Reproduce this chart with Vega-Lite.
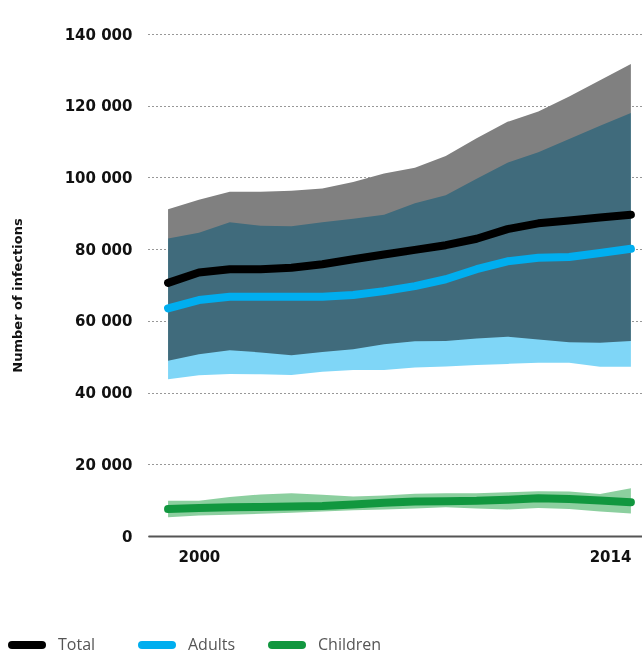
{
  "$schema": "https://vega.github.io/schema/vega-lite/v6.json",
  "width": 494,
  "height": 502,
  "autosize": {"type": "none"},
  "padding": {"left": 148, "top": 34, "right": 0, "bottom": 120},
  "background": "white",
  "config": {
    "view": {"stroke": null},
    "font": "DejaVu Sans"
  },
  "data": {
    "values": [
      {"year": 1999, "Total": 70.6, "total_lo": 48.9, "total_hi": 91.1, "Adults": 63.5, "adults_lo": 43.7, "adults_hi": 83.0, "Children": 7.5, "children_lo": 5.2, "children_hi": 9.8},
      {"year": 2000, "Total": 73.5, "total_lo": 50.7, "total_hi": 93.8, "Adults": 65.8, "adults_lo": 44.8, "adults_hi": 84.6, "Children": 7.8, "children_lo": 5.7, "children_hi": 9.8},
      {"year": 2001, "Total": 74.4, "total_lo": 51.8, "total_hi": 96.0, "Adults": 66.7, "adults_lo": 45.2, "adults_hi": 87.5, "Children": 8.0, "children_lo": 5.9, "children_hi": 10.9},
      {"year": 2002, "Total": 74.4, "total_lo": 51.2, "total_hi": 96.0, "Adults": 66.7, "adults_lo": 45.1, "adults_hi": 86.5, "Children": 8.1, "children_lo": 6.2, "children_hi": 11.6},
      {"year": 2003, "Total": 74.8, "total_lo": 50.4, "total_hi": 96.3, "Adults": 66.7, "adults_lo": 44.9, "adults_hi": 86.4, "Children": 8.2, "children_lo": 6.5, "children_hi": 11.9},
      {"year": 2004, "Total": 75.8, "total_lo": 51.3, "total_hi": 96.9, "Adults": 66.7, "adults_lo": 45.8, "adults_hi": 87.5, "Children": 8.4, "children_lo": 6.8, "children_hi": 11.5},
      {"year": 2005, "Total": 77.2, "total_lo": 52.1, "total_hi": 98.7, "Adults": 67.2, "adults_lo": 46.3, "adults_hi": 88.5, "Children": 8.8, "children_lo": 7.2, "children_hi": 11.0},
      {"year": 2006, "Total": 78.5, "total_lo": 53.5, "total_hi": 101.1, "Adults": 68.3, "adults_lo": 46.3, "adults_hi": 89.6, "Children": 9.3, "children_lo": 7.4, "children_hi": 11.3},
      {"year": 2007, "Total": 79.8, "total_lo": 54.3, "total_hi": 102.7, "Adults": 69.7, "adults_lo": 47.0, "adults_hi": 92.8, "Children": 9.6, "children_lo": 7.7, "children_hi": 11.8},
      {"year": 2008, "Total": 81.1, "total_lo": 54.4, "total_hi": 106.0, "Adults": 71.6, "adults_lo": 47.3, "adults_hi": 95.0, "Children": 9.7, "children_lo": 8.0, "children_hi": 11.9},
      {"year": 2009, "Total": 82.9, "total_lo": 55.1, "total_hi": 110.9, "Adults": 74.4, "adults_lo": 47.7, "adults_hi": 99.6, "Children": 9.8, "children_lo": 7.7, "children_hi": 11.9},
      {"year": 2010, "Total": 85.6, "total_lo": 55.6, "total_hi": 115.5, "Adults": 76.6, "adults_lo": 48.0, "adults_hi": 104.1, "Children": 10.1, "children_lo": 7.4, "children_hi": 12.2},
      {"year": 2011, "Total": 87.2, "total_lo": 54.8, "total_hi": 118.4, "Adults": 77.6, "adults_lo": 48.3, "adults_hi": 107.0, "Children": 10.5, "children_lo": 7.8, "children_hi": 12.5},
      {"year": 2012, "Total": 88.0, "total_lo": 54.0, "total_hi": 122.6, "Adults": 77.8, "adults_lo": 48.3, "adults_hi": 110.7, "Children": 10.3, "children_lo": 7.5, "children_hi": 12.4},
      {"year": 2013, "Total": 88.8, "total_lo": 53.9, "total_hi": 127.1, "Adults": 78.9, "adults_lo": 47.2, "adults_hi": 114.4, "Children": 9.9, "children_lo": 6.8, "children_hi": 11.7},
      {"year": 2014, "Total": 89.6, "total_lo": 54.4, "total_hi": 131.6, "Adults": 80.1, "adults_lo": 47.2, "adults_hi": 118.0, "Children": 9.4, "children_lo": 6.3, "children_hi": 13.3}
    ]
  },
  "encoding": {
    "x": {
      "field": "year",
      "type": "quantitative",
      "scale": {"domain": [1998.35, 2014.36], "nice": false, "zero": false},
      "axis": {
        "values": [2000, 2014],
        "format": "d",
        "title": null,
        "grid": false,
        "ticks": false,
        "domainColor": "#555555",
        "domainWidth": 2,
        "labelFont": "DejaVu Sans",
        "labelFontSize": 15,
        "labelFontWeight": "bold",
        "labelColor": "#111111",
        "labelPadding": 13,
        "labelFlush": false,
        "labelBound": false,
        "labelOverlap": false,
        "labelAlign": {"condition": {"test": "datum.value == 2014", "value": "right"}, "value": "center"},
        "zindex": 2
      }
    }
  },
  "layer": [
    {
      "mark": {"type": "area", "color": "#808080", "opacity": 1},
      "encoding": {
        "y": {
          "field": "total_lo",
          "type": "quantitative",
          "scale": {"domain": [0, 140], "nice": false},
          "axis": {
            "values": [0, 20, 40, 60, 80, 100, 120, 140],
            "labelExpr": "datum.value == 0 ? '0' : format(datum.value, 'd') + ' 000'",
            "title": "Number of infections",
            "titleFont": "DejaVu Sans",
            "titleFontSize": 13,
            "titleFontWeight": "bold",
            "titleColor": "#111111",
            "titleX": -131,
            "titleY": 261,
            "titleAngle": -90,
            "titleBaseline": "middle",
            "domain": false,
            "ticks": false,
            "grid": true,
            "gridColor": "#333333",
            "gridDash": [1, 3],
            "gridWidth": 1.2,
            "labelFont": "DejaVu Sans",
            "labelFontSize": 15,
            "labelFontWeight": "bold",
            "labelColor": "#111111",
            "labelPadding": 16,
            "zindex": 0
          }
        },
        "y2": {"field": "total_hi"}
      }
    },
    {
      "mark": {"type": "area", "color": "#7fd6f7", "opacity": 1, "blend": "multiply"},
      "encoding": {
        "y": {"field": "adults_lo", "type": "quantitative"},
        "y2": {"field": "adults_hi"}
      }
    },
    {
      "mark": {"type": "area", "color": "#8ccf9f", "opacity": 1},
      "encoding": {
        "y": {"field": "children_lo", "type": "quantitative"},
        "y2": {"field": "children_hi"}
      }
    },
    {
      "transform": [{"fold": ["Children", "Adults", "Total"], "as": ["series", "value"]}],
      "mark": {"type": "line", "strokeWidth": 8, "strokeCap": "round", "strokeJoin": "round"},
      "encoding": {
        "y": {"field": "value", "type": "quantitative"},
        "color": {
          "field": "series",
          "type": "nominal",
          "scale": {"domain": ["Total", "Adults", "Children"], "range": ["#000000", "#00aeef", "#11973f"]},
          "legend": {
            "title": null,
            "orient": "none",
            "direction": "horizontal",
            "legendX": -140,
            "legendY": 592,
            "columns": 3,
            "gridAlign": "all",
            "columnPadding": 4,
            "padding": 0,
            "symbolType": "stroke",
            "symbolSize": 900,
            "symbolStrokeWidth": 8,
            "labelFont": "Open Sans",
            "labelFontSize": 16,
            "labelFontWeight": 400,
            "labelColor": "#555555",
            "labelOffset": 12,
            "encode": {"symbols": {"update": {"strokeCap": {"value": "round"}}}}
          }
        },
        "order": {"field": "series"}
      }
    }
  ]
}
